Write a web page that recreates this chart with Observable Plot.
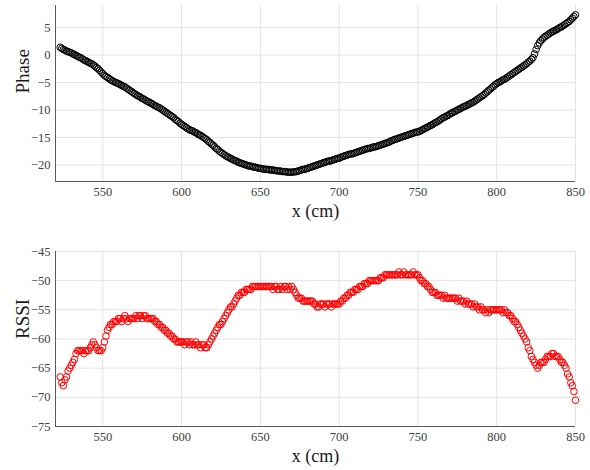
<!DOCTYPE html>
<html>
<head>
<meta charset="utf-8">
<script src="https://cdn.jsdelivr.net/npm/d3@7"></script>
<script src="https://cdn.jsdelivr.net/npm/@observablehq/plot@0.6"></script>
<style>
  html, body { margin: 0; padding: 0; background: white; }
  #chart { width: 590px; height: 470px; position: relative; }
  #chart svg { display: block; }
  #chart svg, #chart svg text { font-family: "Liberation Serif", "Times New Roman", serif !important; }
</style>
</head>
<body>
<div id="chart"></div>
<script>
// Sample positions: one sample per cm, starting at x = 523 cm
const xStart = 523;
const xTicks = [550, 600, 650, 700, 750, 800, 850];
const phaseTicks = [-20, -15, -10, -5, 0, 5];
const rssiTicks = [-75, -70, -65, -60, -55, -50, -45];
const xLabel = "x (cm)";
const phaseLabel = "Phase";
const rssiLabel = "RSSI";

// Phase readings, 523..850 cm
const phase = [
  1.4, 1.2, 1.0, 0.9, 0.7, 0.6, 0.5, 0.4, 0.2, 0.1,
  -0.1, -0.2, -0.4, -0.5, -0.7, -0.9, -1.0, -1.2, -1.3, -1.5,
  -1.6, -1.8, -2.0, -2.3, -2.5, -2.8, -3.1, -3.4, -3.7, -3.9,
  -4.1, -4.3, -4.5, -4.7, -4.8, -5.0, -5.1, -5.2, -5.4, -5.5,
  -5.7, -5.8, -6.0, -6.2, -6.4, -6.6, -6.8, -7.0, -7.2, -7.4,
  -7.5, -7.7, -7.9, -8.0, -8.2, -8.4, -8.5, -8.7, -8.8, -9.0,
  -9.2, -9.3, -9.5, -9.6, -9.8, -10.0, -10.2, -10.4, -10.6, -10.8,
  -11.0, -11.2, -11.4, -11.7, -11.9, -12.1, -12.4, -12.6, -12.8, -13.0,
  -13.2, -13.4, -13.6, -13.7, -13.8, -14.0, -14.1, -14.3, -14.5, -14.6,
  -14.8, -15.0, -15.2, -15.4, -15.7, -15.9, -16.2, -16.4, -16.7, -17.0,
  -17.2, -17.5, -17.7, -17.9, -18.1, -18.3, -18.5, -18.6, -18.8, -18.9,
  -19.1, -19.2, -19.3, -19.5, -19.6, -19.7, -19.8, -19.9, -20.0, -20.1,
  -20.2, -20.2, -20.3, -20.4, -20.4, -20.5, -20.6, -20.6, -20.7, -20.7,
  -20.8, -20.8, -20.8, -20.9, -20.9, -20.9, -21.0, -21.0, -21.1, -21.1,
  -21.1, -21.2, -21.2, -21.2, -21.3, -21.3, -21.3, -21.3, -21.3, -21.2,
  -21.2, -21.1, -21.0, -20.9, -20.8, -20.8, -20.7, -20.6, -20.5, -20.4,
  -20.3, -20.2, -20.1, -20.0, -19.9, -19.8, -19.7, -19.6, -19.5, -19.4,
  -19.3, -19.3, -19.2, -19.1, -19.0, -18.9, -18.8, -18.8, -18.6, -18.5,
  -18.4, -18.3, -18.2, -18.1, -18.0, -18.0, -17.9, -17.8, -17.7, -17.6,
  -17.5, -17.4, -17.3, -17.2, -17.1, -17.0, -17.0, -16.9, -16.8, -16.7,
  -16.7, -16.6, -16.5, -16.4, -16.3, -16.2, -16.1, -16.0, -15.9, -15.8,
  -15.6, -15.5, -15.4, -15.3, -15.2, -15.1, -15.0, -14.9, -14.8, -14.7,
  -14.6, -14.5, -14.4, -14.3, -14.2, -14.1, -14.0, -14.0, -13.9, -13.7,
  -13.6, -13.4, -13.3, -13.1, -13.0, -12.8, -12.7, -12.5, -12.3, -12.2,
  -12.0, -11.8, -11.6, -11.4, -11.3, -11.1, -11.0, -10.8, -10.6, -10.5,
  -10.3, -10.2, -10.0, -9.9, -9.7, -9.6, -9.4, -9.3, -9.2, -9.0,
  -8.9, -8.7, -8.6, -8.4, -8.2, -8.0, -7.8, -7.6, -7.4, -7.2,
  -6.9, -6.7, -6.4, -6.2, -5.9, -5.7, -5.4, -5.2, -5.0, -4.9,
  -4.7, -4.5, -4.4, -4.2, -4.0, -3.8, -3.6, -3.4, -3.2, -3.0,
  -2.8, -2.6, -2.4, -2.2, -2.0, -1.8, -1.6, -1.3, -1.1, -0.8,
  -0.5, 0.2, 1.0, 1.7, 2.2, 2.6, 2.9, 3.2, 3.4, 3.6,
  3.8, 4.0, 4.2, 4.3, 4.5, 4.6, 4.8, 5.0, 5.1, 5.3,
  5.5, 5.7, 5.9, 6.1, 6.4, 6.7, 7.0, 7.3
];

// RSSI readings, 523..850 cm
const rssi = [
  -66.5, -67.5, -68, -67, -66.5, -65.5, -65, -64.5, -64, -63.5,
  -62.5, -62, -62, -62, -62, -62.5, -62, -62, -62, -61.5,
  -61, -60.5, -61, -61.5, -62, -62, -62, -61.5, -60.5, -59.5,
  -58.5, -58, -57.5, -57.5, -57, -57, -57, -56.5, -56.5, -57,
  -56.5, -56, -56.5, -57, -56.5, -56.5, -56.5, -56.5, -56, -56.5,
  -56, -56, -56.5, -56, -56, -56.5, -56.5, -56.5, -56.5, -56.5,
  -57, -57, -57.5, -57.5, -58, -58, -58.5, -58.5, -59, -59,
  -59.5, -59.5, -60, -60, -60.5, -60.5, -60.5, -60.5, -60.5, -61,
  -60.5, -60.5, -61, -60.5, -61, -61, -60.5, -61, -61, -61.5,
  -61, -61, -61.5, -61.5, -61, -60.5, -60, -59.5, -59, -58.5,
  -58, -57.5, -57.5, -57, -56.5, -56, -55.5, -55, -54.5, -54.5,
  -54, -53.5, -53, -52.5, -52.5, -52, -52, -52, -51.5, -51.5,
  -51.5, -51.5, -51, -51, -51, -51, -51, -51, -51, -51,
  -51, -51, -51, -51, -51, -51.5, -51, -51, -51.5, -51.5,
  -51, -51.5, -51, -51, -51.5, -51, -51.5, -51, -51.5, -52,
  -52.5, -53, -53, -53, -53.5, -53.5, -53.5, -53.5, -53.5, -53.5,
  -53.5, -54, -54, -54.5, -54.5, -54, -54, -54, -54.5, -54,
  -54, -54, -54.5, -54, -54, -54, -54, -54, -53.5, -53.5,
  -53, -53, -52.5, -52.5, -52, -52, -52, -51.5, -51.5, -51.5,
  -51, -51, -51, -50.5, -50.5, -50.5, -50, -50, -50, -50,
  -50, -50, -50, -49.5, -49.5, -49.5, -49, -49, -49, -49,
  -49, -49, -49, -49, -49, -48.5, -49, -49, -48.5, -49,
  -49, -49, -49, -49, -48.5, -49, -49, -49, -49.5, -50,
  -50, -50.5, -50.5, -51, -51, -51.5, -52, -52, -52, -52.5,
  -52.5, -52.5, -52.5, -53, -52.5, -53, -53, -53, -53, -53,
  -53, -53, -53.5, -53, -53.5, -53.5, -53.5, -54, -53.5, -54,
  -54, -54, -54.5, -54, -54.5, -54.5, -55, -54.5, -55, -55,
  -55.5, -55, -55.5, -55, -55, -55, -55, -55, -55, -55,
  -55, -55.5, -55, -55.5, -55.5, -56, -56, -56.5, -57, -57,
  -57.5, -58, -58.5, -59, -59.5, -60, -60.5, -61.5, -62, -63,
  -63.5, -64, -64.5, -65, -64.5, -64, -64, -64, -63.5, -63,
  -63, -63, -62.5, -62.5, -63, -63, -63, -63.5, -64, -64,
  -64.5, -65, -66, -66.5, -67.5, -68, -69, -70.5
];

const serif = "Liberation Serif, Times New Roman, serif";
const W = 590;
const xDomain = [520, 850];

function panel({values, color, yDomain, yTicks, yLabel, height, marginTop, marginBottom}) {
  const data = values.map((v, i) => ({x: xStart + i, y: v}));
  return Plot.plot({
    width: W,
    height,
    marginLeft: 55,
    marginRight: 15,
    marginTop,
    marginBottom,
    style: {fontFamily: serif, fontSize: "13px", color: "#404040", background: "white", overflow: "visible"},
    x: {domain: xDomain},
    y: {domain: yDomain},
    marks: [
      Plot.gridX(xTicks, {stroke: "#e3e3e3", strokeOpacity: 1}),
      Plot.gridY(yTicks, {stroke: "#e3e3e3", strokeOpacity: 1}),
      Plot.axisX(xTicks, {tickSize: 0, tickPadding: 6, label: null, fontSize: 12.5, fill: "#404040"}),
      Plot.axisY(yTicks, {tickSize: 0, tickPadding: 5, label: null, fontSize: 12.5, fill: "#404040"}),
      Plot.ruleX([xDomain[0]], {stroke: "#5a5a5a", strokeWidth: 1}),
      Plot.ruleY([yDomain[0]], {stroke: "#5a5a5a", strokeWidth: 1}),
      Plot.dot(data, {x: "x", y: "y", r: 3.3, stroke: color, strokeWidth: 1, fill: "none"}),
      Plot.text([xLabel], {frameAnchor: "bottom", dy: 35, fontSize: 18, fill: "#1a1a1a"}),
      Plot.text([yLabel], {frameAnchor: "left", dx: -33, rotate: -90, fontSize: 19, fill: "#1a1a1a"})
    ]
  });
}

const topPanel = panel({
  values: phase, color: "black", yDomain: [-23, 9], yTicks: phaseTicks, yLabel: phaseLabel,
  height: 240, marginTop: 5, marginBottom: 59
});
const bottomPanel = panel({
  values: rssi, color: "#ff0000", yDomain: [-75, -45], yTicks: rssiTicks, yLabel: rssiLabel,
  height: 230, marginTop: 11, marginBottom: 44
});
const chart = document.getElementById("chart");
chart.appendChild(topPanel);
chart.appendChild(bottomPanel);
</script>
</body>
</html>
